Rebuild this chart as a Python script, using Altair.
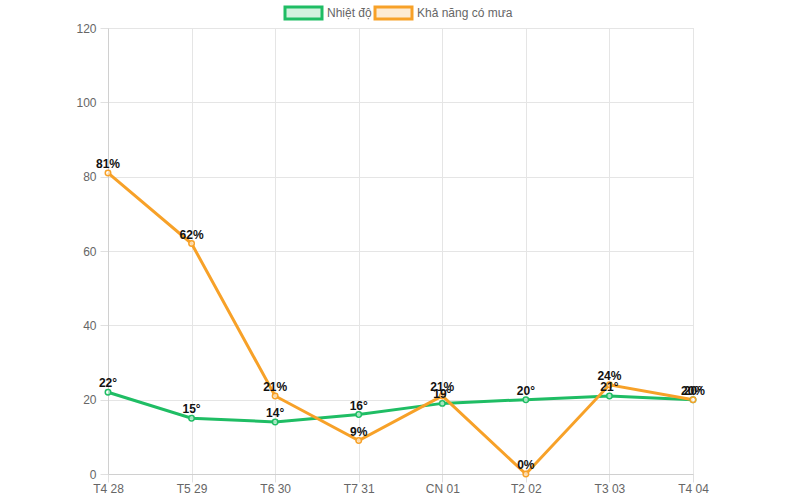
import altair as alt
import pandas as pd

days = ["T4 28", "T5 29", "T6 30", "T7 31", "CN 01", "T2 02", "T3 03", "T4 04"]
temperature = [22, 15, 14, 16, 19, 20, 21, 20]
rain = [81, 62, 21, 9, 21, 0, 24, 20]
series_names = ["Nhiệt độ", "Khả năng có mưa"]
series_colors = ["#1fbd64", "#f7a128"]
series_fills = ["#d2f2df", "#fdebd3"]

rows = []
for d, t, r in zip(days, temperature, rain):
    rows.append({"day": d, "value": t, "series": series_names[0], "label": f"{t}°"})
    rows.append({"day": d, "value": r, "series": series_names[1], "label": f"{r}%"})
df = pd.DataFrame(rows)

W, H = 585, 446

x = alt.X("day:N", sort=days, title=None,
          scale=alt.Scale(type="point", padding=0),
          axis=alt.Axis(labelAngle=0, labelColor="#666666", labelFontSize=12,
                        labelFont="Liberation Sans", labelPadding=1,
                        tickSize=8, tickColor="#e0e0e0", domainColor="#d0d0d0",
                        gridColor="#e5e5e5", grid=True))
y = alt.Y("value:Q", title=None,
          scale=alt.Scale(domain=[0, 120], nice=False),
          axis=alt.Axis(values=[0, 20, 40, 60, 80, 100, 120], labelColor="#666666",
                        labelFontSize=12, labelFont="Liberation Sans", labelPadding=4,
                        tickSize=8, tickColor="#e0e0e0", domainColor="#d0d0d0",
                        gridColor="#e5e5e5", grid=True))
color = alt.Color("series:N", scale=alt.Scale(domain=series_names, range=series_colors),
                  legend=None)

base = alt.Chart(df).encode(x=x, y=y, color=color)

lines = base.mark_line(strokeWidth=3)
points = base.mark_point(filled=False, size=30, strokeWidth=1.5, fill="#ffffff", fillOpacity=0.6)
labels = base.mark_text(baseline="bottom", dy=-2, fontWeight="bold", fontSize=12,
                        font="Liberation Sans", color="#111111").encode(
    text="label:N", color=alt.value("#111111"))

# manual legend
leg = pd.DataFrame({
    "series": series_names,
    "x0": [177, 267], "x1": [214, 304], "tx": [219, 309],
    "fill": series_fills, "stroke": series_colors,
})
leg_box = alt.Chart(leg).mark_rect(strokeWidth=3).encode(
    x=alt.X("x0:Q", scale=None), x2="x1:Q",
    y=alt.value(-21), y2=alt.value(-9),
    fill=alt.Fill("fill:N", scale=None), stroke=alt.Stroke("stroke:N", scale=None))
leg_text = alt.Chart(leg).mark_text(align="left", baseline="middle", fontSize=12,
                                    font="Liberation Sans", color="#666666").encode(
    x=alt.X("tx:Q", scale=None), y=alt.value(-15), text="series:N")

chart = alt.layer(lines, points, labels, leg_box, leg_text).properties(
    width=W, height=H,
    autosize=alt.AutoSizeParams(type="none"),
    padding={"left": 108, "top": 28, "right": 107, "bottom": 26},
).configure_view(stroke=None).configure(background="white")

chart.save("out.html", embed_options={"renderer": "svg", "actions": False})
